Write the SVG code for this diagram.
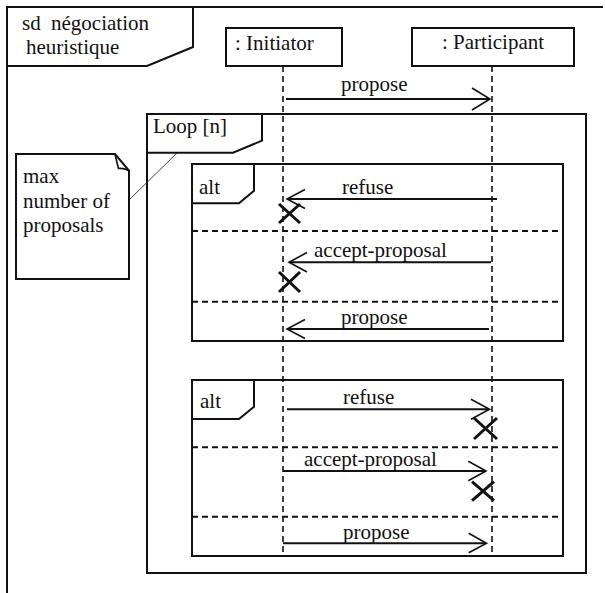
<svg xmlns="http://www.w3.org/2000/svg" width="605" height="593" viewBox="0 0 605 593">
  <style>
    text { font-family: "Liberation Serif", Tinos, "Times New Roman", Times, "DejaVu Serif", serif; font-size: 21px; fill: #111; }
    .frame { fill: none; stroke: #111; stroke-width: 2; }
    .tag { fill: #fff; stroke: #111; stroke-width: 2; }
    .box { fill: #fff; stroke: #111; stroke-width: 2; }
    .life { stroke: #111; stroke-width: 1.6; stroke-dasharray: 6 4; fill: none; }
    .sep { stroke: #111; stroke-width: 2; stroke-dasharray: 6 4; fill: none; }
    .msg { stroke: #111; stroke-width: 2; fill: none; }
    .head { stroke: #111; stroke-width: 1.6; fill: none; }
    .kill { stroke: #111; stroke-width: 3; fill: none; }
    .link { stroke: #111; stroke-width: 0.8; fill: none; }
  </style>

  <!-- outer sequence diagram frame -->
  <g id="sd-frame">
    <path class="frame" d="M7,593 V7 H603"/>
    <polygon class="tag" points="7,7 193,7 193,47 147,66 7,66"/>
    <text x="22" y="30">sd<tspan x="51">négociation</tspan></text>
    <text x="26" y="54">heuristique</text>
  </g>

  <!-- lifeline heads -->
  <g id="initiator">
    <rect class="box" x="226" y="28" width="116" height="38"/>
    <text x="235" y="50">: Initiator</text>
  </g>
  <g id="participant">
    <rect class="box" x="412" y="28" width="162" height="38"/>
    <text x="442" y="49">: Participant</text>
  </g>

  <!-- loop fragment -->
  <g id="loop">
    <rect class="frame" x="147" y="114" width="439" height="459"/>
    <polygon class="tag" points="147,114 262,114 262,140.7 233,152.7 147,152.7"/>
    <text x="153" y="133">Loop [n]</text>
  </g>

  <!-- first alt fragment -->
  <g id="alt-1">
    <rect class="frame" x="192" y="164" width="371" height="177"/>
    <polygon class="tag" points="192,164 254,164 254,190.7 239,203.3 192,203.3"/>
    <text x="199" y="194">alt</text>
    <line class="sep" x1="192" y1="231" x2="563" y2="231"/>
    <line class="sep" x1="192" y1="301.7" x2="563" y2="301.7"/>
  </g>

  <!-- second alt fragment -->
  <g id="alt-2">
    <rect class="frame" x="192" y="380" width="371" height="176"/>
    <polygon class="tag" points="192,380 254,380 254,406.7 239,419 192,419"/>
    <text x="200" y="408">alt</text>
    <line class="sep" x1="192" y1="447.3" x2="563" y2="447.3"/>
    <line class="sep" x1="192" y1="516.7" x2="563" y2="516.7"/>
  </g>

  <!-- comment note -->
  <g id="note">
    <path class="box" d="M16,154 H115 L129,170.7 V279 H16 Z"/>
    <path class="head" d="M115,154 Q117,163 118.5,168.5 Q124,168 129,170.7"/>
    <text x="23" y="183">max</text>
    <text x="23" y="208">number of</text>
    <text x="23" y="232">proposals</text>
  </g>

  <!-- lifelines, messages and connectors -->
  <g id="connectors">
    <line class="life" x1="283" y1="66" x2="283" y2="556"/>
    <line class="life" x1="492" y1="66" x2="492" y2="556"/>

    <line class="link" x1="129" y1="200" x2="178" y2="152"/>

    <line class="msg" x1="286" y1="99" x2="490" y2="99"/>
    <polyline class="head" points="472,88 490,99 472,110"/>
    <text x="341" y="91">propose</text>

    <line class="msg" x1="497" y1="199" x2="288" y2="199"/>
    <polyline class="head" points="305,189.5 287,199 305,208.5"/>
    <text x="342" y="194">refuse</text>
    <path class="kill" d="M279,204 L300,223 M300,204 L279,223"/>

    <line class="msg" x1="491" y1="262.3" x2="290" y2="262.3"/>
    <polyline class="head" points="307,252.5 289,262.3 307,272"/>
    <text x="314" y="257">accept-proposal</text>
    <path class="kill" d="M279,272 L300,292 M300,272 L279,292"/>

    <line class="msg" x1="489" y1="329" x2="288" y2="329"/>
    <polyline class="head" points="305,319.5 287,329 305,338.5"/>
    <text x="341" y="323.5">propose</text>

    <line class="msg" x1="287" y1="409.3" x2="489" y2="409.3"/>
    <polyline class="head" points="471,399.3 489.5,409.3 471,419.3"/>
    <text x="343" y="403.5">refuse</text>
    <path class="kill" d="M474,418 L497,439 M497,418 L474,439"/>

    <line class="msg" x1="283" y1="471" x2="486" y2="471"/>
    <polyline class="head" points="468.3,461.3 486,471 468.3,480.7"/>
    <text x="304" y="466">accept-proposal</text>
    <path class="kill" d="M472,481.7 L494,500.7 M494,481.7 L472,500.7"/>

    <line class="msg" x1="283" y1="543.3" x2="486" y2="543.3"/>
    <polyline class="head" points="468.7,533.3 486.5,543.3 468.7,552.7"/>
    <text x="343" y="538.5">propose</text>
  </g>
</svg>
